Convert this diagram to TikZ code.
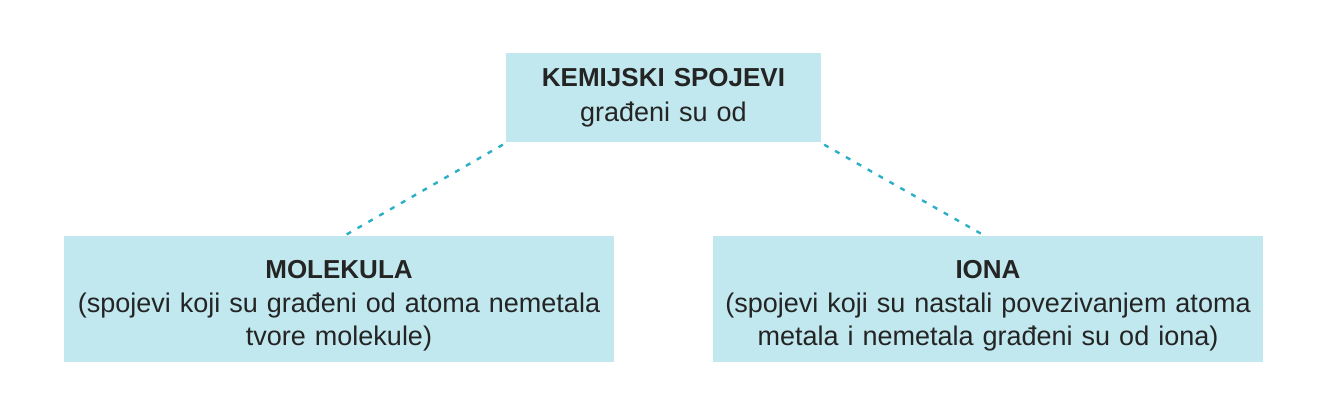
\documentclass[tikz,border=0pt]{standalone}
\usepackage{fontspec}
\setmainfont{Liberation Sans}
\definecolor{boxfill}{HTML}{C0E8EE}
\definecolor{dotline}{HTML}{2BAFC7}
\definecolor{txt}{HTML}{242424}
\newcommand{\hd}[1]{{\fontsize{26}{34}\selectfont\bfseries #1}}
\begin{document}
\begin{tikzpicture}[x=1pt,y=1pt,
  cbox/.style={fill=boxfill, draw=none, inner sep=0pt, align=center,
    text=txt, font=\fontsize{27}{33.5}\selectfont},
  link/.style={draw=dotline, line width=2.4pt, dash pattern=on 5pt off 7.5pt}]
\useasboundingbox (0,0) rectangle (1327,418);
\node[cbox, minimum width=315pt, minimum height=89pt, text width=315pt, font=\fontsize{27}{35}\selectfont] (top) at (663.5,320)
  {\hd{KEMIJSKI SPOJEVI}\\građeni su od};
\node[cbox, minimum width=550pt, minimum height=126pt, text width=550pt] (left) at (339,119)
  {\rule{0pt}{32pt}\hd{MOLEKULA}\\(spojevi koji su građeni od atoma nemetala\\tvore molekule)};
\node[cbox, minimum width=550pt, minimum height=126pt, text width=550pt] (right) at (988,119)
  {\rule{0pt}{32pt}\hd{IONA}\\(spojevi koji su nastali povezivanjem atoma\\metala i nemetala građeni su od iona)};
\draw[link] ([xshift=-3pt,yshift=-2pt]top.south west) -- ([xshift=7pt,yshift=1pt]left.north);
\draw[link] ([xshift=3pt,yshift=-2pt]top.south east) -- ([xshift=-5pt,yshift=1pt]right.north);
\end{tikzpicture}
\end{document}
